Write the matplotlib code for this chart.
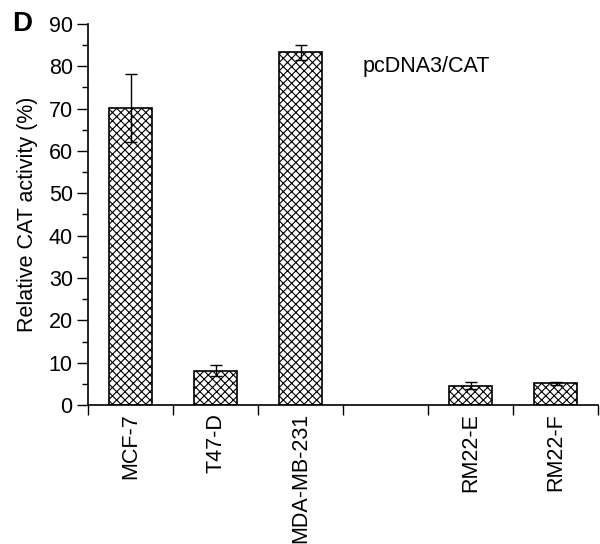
import matplotlib
matplotlib.use("Agg")
import matplotlib.pyplot as plt
from matplotlib.ticker import MultipleLocator

categories = ["MCF-7", "T47-D", "MDA-MB-231", "", "RM22-E", "RM22-F"]
values = [70.2, 8.1, 83.3, None, 4.6, 5.1]
errors = [8.0, 1.3, 1.8, None, 0.8, 0.4]

plt.rcParams['font.family'] = ['Liberation Sans', 'DejaVu Sans']
plt.rcParams['hatch.linewidth'] = 0.8

fig = plt.figure(figsize=(6, 5.44), dpi=100)
ax = fig.add_axes([0.1467, 0.2555, 0.85, 0.7004])

xs = [i for i, v in enumerate(values) if v is not None]
vs = [v for v in values if v is not None]
es = [e for e in errors if e is not None]
ax.bar(xs, vs, width=0.5, facecolor='white', edgecolor='black', hatch='xxxx', linewidth=1.2)
ax.errorbar(xs, vs, yerr=es, fmt='none', ecolor='black', elinewidth=1.0, capsize=4, capthick=1.0)

ax.set_xlim(-0.5, 5.5)
ax.set_ylim(0, 90)
ax.yaxis.set_major_locator(MultipleLocator(10))
ax.yaxis.set_minor_locator(MultipleLocator(5))
ax.set_xticks([i - 0.5 for i in range(7)])
ax.set_xticklabels([])
ax.set_xticks(range(6), minor=True)
ax.set_xticklabels(categories, minor=True, rotation=90, fontsize=15.5)
ax.tick_params(axis='x', which='minor', length=0, pad=6)
ax.tick_params(axis='x', which='major', length=7, width=1, direction='out')
ax.tick_params(axis='y', which='major', length=8, width=1, labelsize=15.5, pad=3)
ax.tick_params(axis='y', which='minor', length=4, width=1)
for s in ['top', 'right']:
    ax.spines[s].set_visible(False)
for s in ['left', 'bottom']:
    ax.spines[s].set_linewidth(1.2)

ax.set_ylabel("Relative CAT activity (%)", fontsize=15.5, labelpad=8)
ax.text(2.735, 80, "pcDNA3/CAT", fontsize=15.5, va='center', ha='left')
fig.text(0.02, 0.956, "D", fontsize=20, fontweight='bold', va='center', ha='left')

fig.savefig("out.png", dpi=100)
